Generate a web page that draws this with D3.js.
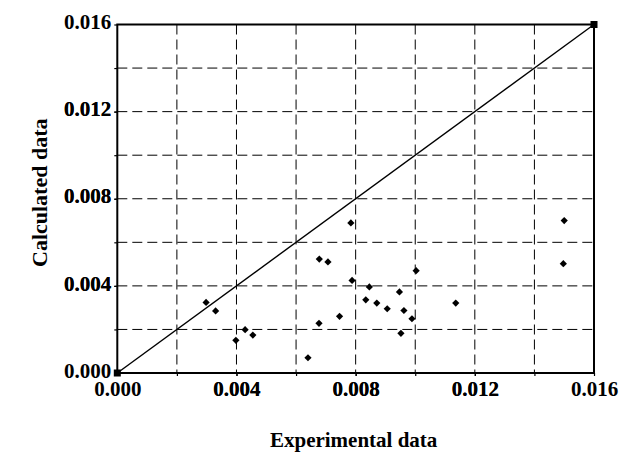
<!DOCTYPE html>
<html lang="en">
<head>
    <meta charset="UTF-8">
    <title>Calculated vs Experimental</title>
    <style>
        body { margin: 0; background: #fff; }
        text { font-family: "Liberation Serif", "Times New Roman", serif; font-weight: bold; fill: #000; }
        .grid line { stroke: #000; stroke-width: 1; stroke-dasharray: 10 5; }
    </style>
</head>
<body>
    <svg id="chart" width="631" height="459"></svg>
    <script src="https://d3js.org/d3.v7.min.js"></script>
    <script>
        // experimental (x) vs calculated (y)
        const experimental = [0.00298, 0.00330, 0.00398, 0.00429, 0.00455, 0.00640, 0.00678, 0.00707,
            0.00677, 0.00746, 0.00788, 0.00846, 0.00834, 0.00871, 0.00906, 0.00947, 0.00962, 0.00989,
            0.00952, 0.01003, 0.01136, 0.01497, 0.01500, 0.00784];
        const calculated = [0.00324, 0.00285, 0.00150, 0.00199, 0.00174, 0.00070, 0.00523, 0.00510,
            0.00228, 0.00260, 0.00425, 0.00395, 0.00336, 0.00321, 0.00295, 0.00372, 0.00287, 0.00249,
            0.00182, 0.00470, 0.00321, 0.00502, 0.00700, 0.00689];
        const lineX = [0, 0.016];
        const lineY = [0, 0.016];
        const ticks = [0, 0.004, 0.008, 0.012, 0.016];
        const minorTicks = [0.002, 0.004, 0.006, 0.008, 0.010, 0.012, 0.014];

        const margin = { top: 24.5, right: 37, bottom: 86, left: 117.3 };
        const width = 631 - margin.left - margin.right;
        const height = 459 - margin.top - margin.bottom;

        const svg = d3.select("#chart")
            .append("g")
            .attr("transform", `translate(${margin.left},${margin.top})`);

        const x = d3.scaleLinear().domain([0, 0.016]).range([0, width]);
        const y = d3.scaleLinear().domain([0, 0.016]).range([height, 0]);

        // dashed grid
        const grid = svg.append("g").attr("class", "grid");
        grid.selectAll(".vx").data(minorTicks).enter().append("line")
            .attr("x1", d => x(d)).attr("x2", d => x(d))
            .attr("y1", 0).attr("y2", height);
        grid.selectAll(".hy").data(minorTicks).enter().append("line")
            .attr("x1", 0).attr("x2", width)
            .attr("y1", d => y(d)).attr("y2", d => y(d));

        // axes
        const isMajor = d => ticks.some(t => Math.abs(t - d) < 1e-9);
        const xAxis = d3.axisBottom(x).tickValues(ticks.concat(minorTicks)).tickSize(3)
            .tickFormat(d => isMajor(d) ? d3.format(".3f")(d) : "");
        const yAxis = d3.axisLeft(y).tickValues(ticks.concat(minorTicks)).tickSize(3)
            .tickFormat(d => isMajor(d) ? d3.format(".3f")(d) : "");

        const gx = svg.append("g").attr("transform", `translate(0,${height})`).call(xAxis);
        gx.select(".domain").remove();
        gx.selectAll("line").attr("stroke", "#000").attr("stroke-width", 1.2);
        gx.selectAll("text").style("font-size", "21px").attr("dy", "0.95em").attr("y", 3);

        const gy = svg.append("g").call(yAxis);
        gy.select(".domain").remove();
        gy.selectAll("line").attr("stroke", "#000").attr("stroke-width", 1.2);
        gy.selectAll("text").style("font-size", "21px").attr("x", -6).attr("dy", "0.2em");

        // frame
        svg.append("rect")
            .attr("width", width).attr("height", height)
            .attr("fill", "none").attr("stroke", "#000").attr("stroke-width", 2);

        // diagonal
        const pts = lineX.map((d, i) => [d, lineY[i]]);
        svg.append("path")
            .datum(pts)
            .attr("fill", "none").attr("stroke", "#000").attr("stroke-width", 1.4)
            .attr("d", d3.line().x(d => x(d[0])).y(d => y(d[1])));
        svg.selectAll(".end").data(pts).enter().append("rect")
            .attr("x", d => x(d[0]) - 3.5).attr("y", d => y(d[1]) - 3.5)
            .attr("width", 7).attr("height", 7).attr("fill", "#000");

        // points: squares turned 45 degrees
        const diamond = d3.symbol().type(d3.symbolSquare).size(26);
        svg.selectAll(".pt").data(experimental).enter().append("path")
            .attr("d", diamond)
            .attr("transform", (d, i) => `translate(${x(d)},${y(calculated[i])}) rotate(45)`)
            .attr("fill", "#000");

        // axis titles
        svg.append("text")
            .attr("x", width / 2 - 2).attr("y", height + 74)
            .attr("text-anchor", "middle")
            .style("font-size", "21px")
            .text("Experimental data");
        svg.append("text")
            .attr("transform", `translate(${-70},${height / 2 - 6}) rotate(-90)`)
            .attr("text-anchor", "middle")
            .style("font-size", "22px")
            .text("Calculated data");
    </script>
</body>
</html>
